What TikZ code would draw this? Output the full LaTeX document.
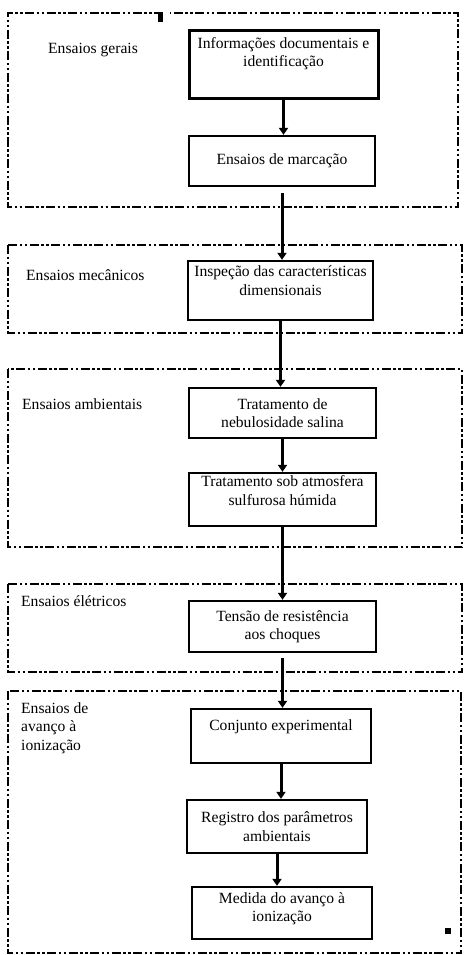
\documentclass[tikz,border=0pt]{standalone}
\usepackage{fontspec}
\setmainfont{Liberation Serif}
\usetikzlibrary{arrows.meta}

\tikzset{
    group/.style={line width=2.6pt, dash pattern=on 9pt off 2.5pt on 2.5pt off 2.5pt on 2.5pt off 2.5pt},
    stepbox/.style={draw, line width=2.3pt, align=center, inner sep=0pt},
    grouplabel/.style={inner sep=0pt, align=left},
    flow/.style={line width=3pt, -{Triangle[width=9pt,length=7pt]}},
}

\begin{document}
\begin{tikzpicture}[x=1pt, y=-1pt, font=\fontsize{15.6}{18.5}\selectfont]
    \useasboundingbox (0,0) rectangle (463,955);

    % Ensaios gerais
    \draw[group] (163,13) -- (8,13) -- (8,207) -- (458,207) -- (458,13) -- (170,13);
    \fill (158,12) rectangle (163,22);
    \node[grouplabel, anchor=west] (gerais) at (48,50) {Ensaios gerais};
    \node[stepbox, line width=3pt, minimum width=189, minimum height=68, text depth=26pt] (info) at (283.5,65)
        {Informações documentais e\\identificação};
    \node[stepbox, minimum width=186, minimum height=50] (marc) at (282,161) {Ensaios de marcação};

    % Ensaios mecanicos
    \draw[group] (8,245) rectangle (462,333);
    \node[grouplabel, anchor=west] (mecanicos) at (26,275) {Ensaios mecânicos};
    \node[stepbox, minimum width=185, minimum height=59, text depth=20pt] (insp) at (280.5,290.5)
        {Inspeção das características\\dimensionais};

    % Ensaios ambientais
    \draw[group] (8,369) rectangle (462,547);
    \node[grouplabel, anchor=west] (ambientais) at (22,404) {Ensaios ambientais};
    \node[stepbox, minimum width=187, minimum height=50] (neb) at (282.5,413)
        {Tratamento de\\nebulosidade salina};
    \node[stepbox, minimum width=187, minimum height=53, text depth=18pt] (sulf) at (282.5,499.5)
        {Tratamento sob atmosfera\\sulfurosa húmida};

    % Ensaios eletricos
    \draw[group] (8,584) rectangle (462,672);
    \node[grouplabel, anchor=west] (eletricos) at (21,601) {Ensaios élétricos};
    \node[stepbox, minimum width=187, minimum height=51] (tens) at (282.5,626.5)
        {Tensão de resistência\\aos choques};

    % Ensaios de avanco a ionizacao
    \draw[group] (8,691) rectangle (461,953);
    \fill (445,928) rectangle (451,934);
    \node[grouplabel, anchor=north west] (avanco) at (21,702) {Ensaios de\\avanço à\\ionização};
    \node[stepbox, minimum width=180, minimum height=54, text depth=22pt] (conj) at (281,736)
        {Conjunto experimental};
    \node[stepbox, minimum width=180, minimum height=53] (reg) at (277,826.5)
        {Registro dos parâmetros\\ambientais};
    \node[stepbox, minimum width=180, minimum height=52, text depth=12pt] (med) at (282,913)
        {Medida do avanço à\\ionização};

    % Arrows
    \draw[flow] (info.south) -- (info.south |- marc.north);
    \draw[flow, shorten <=6pt] (marc.south) -- (marc.south |- insp.north);
    \draw[flow] (insp.south) -- (insp.south |- neb.north);
    \draw[flow] (neb.south) -- (neb.south |- sulf.north);
    \draw[flow] (sulf.south) -- (sulf.south |- tens.north);
    \draw[flow, shorten <=5pt] (tens.south) -- (tens.south |- conj.north);
    \draw[flow] (conj.south) -- (conj.south |- reg.north);
    \draw[flow] (reg.south) -- (reg.south |- med.north);
\end{tikzpicture}
\end{document}
